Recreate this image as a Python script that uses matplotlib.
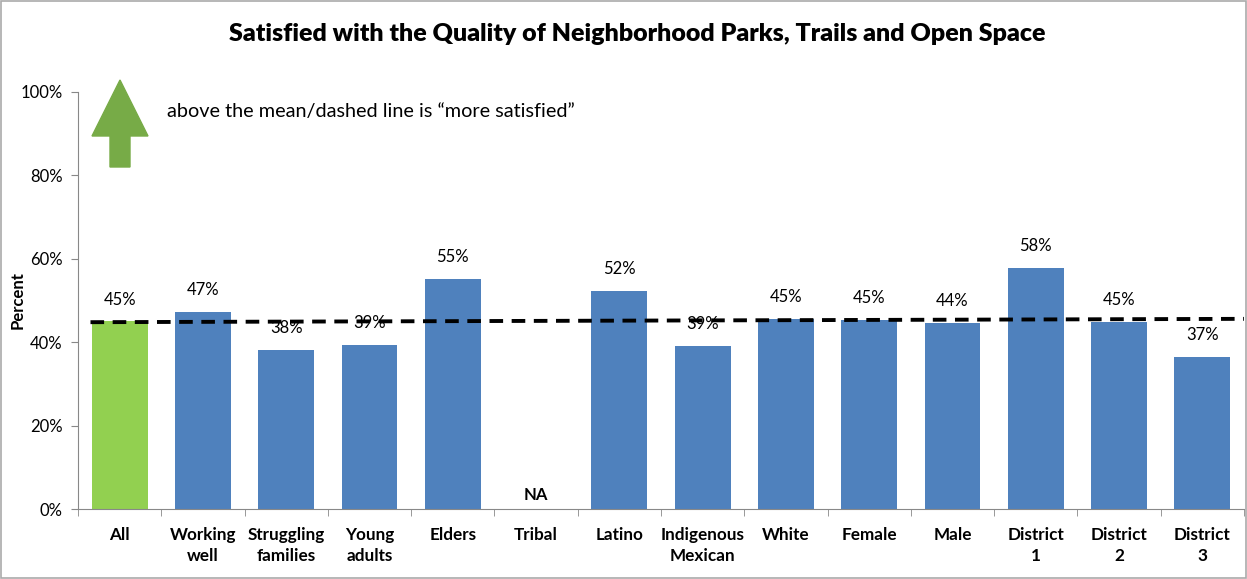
import numpy as np
import matplotlib.pyplot as plt
from matplotlib.patches import Rectangle, FancyArrow

plt.rcParams['font.family'] = ['Lato', 'DejaVu Sans']

# data
categories = ['All', 'Working\nwell', 'Struggling\nfamilies', 'Young\nadults', 'Elders',
              'Tribal', 'Latino', 'Indigenous\nMexican', 'White', 'Female', 'Male',
              'District\n1', 'District\n2', 'District\n3']
values = [45.0, 47.2, 38.1, 39.3, 55.2, np.nan, 52.3, 39.1, 45.6, 45.3, 44.6, 57.8, 44.8, 36.5]
labels = ['45%', '47%', '38%', '39%', '55%', 'NA', '52%', '39%', '45%', '45%', '44%', '58%', '45%', '37%']
mean_line = [44.8, 45.6]

blue = '#4F81BD'
green = '#92D050'

W, H = 1247, 579
fig = plt.figure(figsize=(W / 100, H / 100), dpi=100)
ax = fig.add_axes([78 / W, 1 - 509 / H, (1244 - 78) / W, (509 - 92) / H])

x = np.arange(len(categories))
colors = [green] + [blue] * (len(categories) - 1)
heights = [0 if np.isnan(v) else v for v in values]
ax.bar(x, heights, width=0.67, color=colors, zorder=2)

for i, (v, lab) in enumerate(zip(values, labels)):
    if np.isnan(v):
        ax.text(i, 1.5, lab, ha='center', va='bottom', fontsize=12, fontweight='bold')
    else:
        ax.text(i, v + 3.3, lab, ha='center', va='bottom', fontsize=12)

# mean dashed line
ax.plot([-0.35, len(categories) - 0.5], mean_line, color='black', lw=2.8,
        ls=(0, (3.5, 2.2)), zorder=3)

ax.set_xlim(-0.5, len(categories) - 0.5)
ax.set_ylim(0, 100)
ax.set_yticks(np.arange(0, 101, 20))
ax.set_yticklabels([f'{t}%' for t in range(0, 101, 20)], fontsize=12)
ax.set_xticks(x)
ax.set_xticklabels(categories, fontsize=12.3, fontweight='bold', linespacing=1.35)
ax.set_xticks(np.arange(-0.5, len(categories)), minor=True)
ax.tick_params(axis='x', which='major', length=0, pad=13)
ax.tick_params(axis='x', which='minor', length=5, color='#888888')
ax.tick_params(axis='y', length=5, color='#888888', pad=6)
for s in ['top', 'right']:
    ax.spines[s].set_visible(False)
for s in ['left', 'bottom']:
    ax.spines[s].set_color('#888888')

fig.text(18 / W, 1 - 300 / H, 'Percent', rotation=90, ha='center', va='center',
         fontsize=12, fontweight='bold')

fig.text(637 / W, 1 - 34 / H, 'Satisfied with the Quality of Neighborhood Parks, Trails and Open Space',
         ha='center', va='center', fontsize=18, fontweight='heavy')

# green arrow
arr = FancyArrow(120 / W, 1 - 167 / H, 0, (167 - 80) / H, width=20 / W,
                 head_width=56 / W, head_length=(136 - 80) / H,
                 length_includes_head=True, color='#77AB47', transform=fig.transFigure)
fig.patches.append(arr)
fig.text(167 / W, 1 - 111 / H, 'above the mean/dashed line is \u201cmore satisfied\u201d',
         ha='left', va='center', fontsize=14.3)

# outer frame
fig.patches.append(Rectangle((0.001, 0.001), 0.998, 0.997, transform=fig.transFigure,
                             fill=False, edgecolor='#AAAAAA', lw=1.2))

fig.savefig('out.png', dpi=100)
